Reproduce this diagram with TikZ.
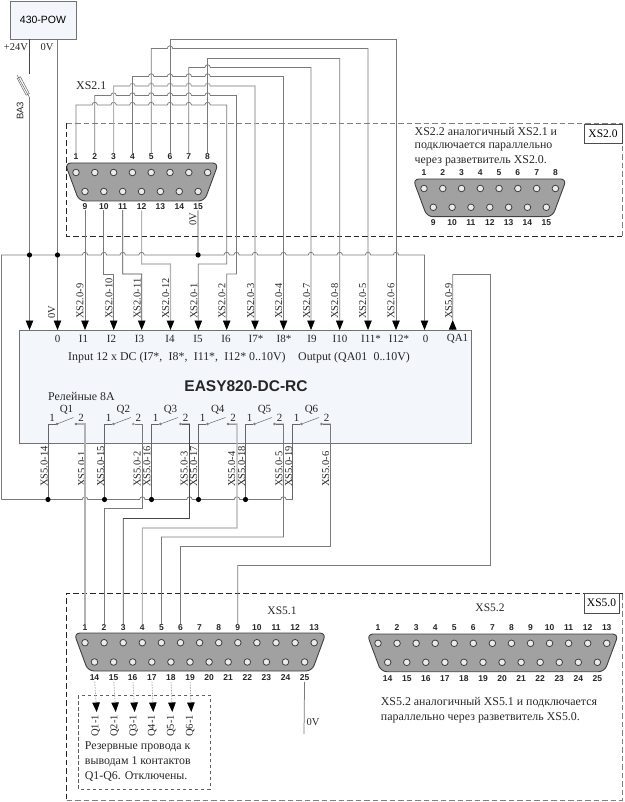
\documentclass[tikz,border=0pt]{standalone}
\usepackage{fontspec}
\setmainfont{Liberation Serif}
\setsansfont{Liberation Sans}
\usetikzlibrary{arrows.meta}
\definecolor{boxfill}{HTML}{F3F7FC}
\def\hr{2.7}
\newcommand{\hops}[2]{\foreach \hx in {#2} { -- (\hx-\hr,#1) arc[start angle=180,end angle=360,radius=\hr] }}
\newcommand{\pinrow}[7]{%
  \foreach \n in {#2,...,#3} {
    \pgfmathsetmacro{\px}{#4+(\n-#2)*#5}
    \node[pin] (#1\n p) at (\px,#6) {};
    \node[pinnum] (#1\n) at (\px,#7) {\n};
  }}
\newcommand{\shell}[4]{\draw[shell] (#1-1,#3) -- (#2+1,#3) -- (#2-13,#4) -- (#1+13,#4) -- cycle;}
\newcommand{\relay}[3]{%
  \node[contact] (#1a) at (#2+9,424) {};
  \node[contact] (#1b) at (#3-9,424) {};
  \draw[thinwire] (#1a) -- (#3-11.5,417.5);
  \draw[thinwire] (#1b) -- (#3,424);
  \node[term] (#1t) at ({(#2+#3)/2},410) {#1};
  \node[term] (#1l) at (#2+4,418) {1};
  \node[term] (#1r) at (#3-4,418) {2};
}
\begin{document}
\begin{tikzpicture}[
    x=1pt,y=-1pt,
    txt/.style={inner sep=0pt,text=black!85,font=\fontsize{10.5}{12}\selectfont},
    term/.style={inner sep=0pt,text=black!85,font=\fontsize{11}{12}\selectfont},
    txtl/.style={inner sep=0pt,anchor=west,text=black!85,font=\fontsize{11.9}{13}\selectfont},
    wirelabel/.style={txt,rotate=90,anchor=west},
    pinnum/.style={inner sep=0.6pt,text=black!85,font=\sffamily\bfseries\fontsize{8.5}{9}\selectfont},
    pin/.style={circle,draw=black!75,fill=white!92!black,line width=0.8pt,inner sep=0pt,minimum size=6.6pt},
    shell/.style={draw=black!75,fill=black!37,line width=0.9pt,rounded corners=6pt},
    wire/.style={draw=black!52,line width=0.75pt},
    lightwire/.style={draw=black!30,line width=1.1pt},
    darkwire/.style={draw=black!72,line width=0.75pt},
    thinwire/.style={draw=black!60,line width=0.5pt},
    tip/.style={-{Triangle[length=9.5pt,width=7.5pt,color=black]}},
    dot/.style={circle,fill=black,inner sep=0pt,minimum size=5.2pt},
    contact/.style={circle,draw=black!60,fill=white,line width=0.4pt,inner sep=0pt,minimum size=2pt},
    lightdash/.style={draw=black!50,line width=0.7pt,dash pattern=on 5.5pt off 3pt},
    darkdash/.style={draw=black!85,line width=0.7pt,dash pattern=on 5.5pt off 3pt},
    sparedash/.style={draw=black!62,line width=0.7pt,dash pattern=on 3.5pt off 2.5pt},
    plainbox/.style={draw=black!55,fill=boxfill,line width=0.7pt}
  ]
  \useasboundingbox (0,0) rectangle (624,802);

  % power supply
  \node[plainbox,minimum width=66pt,minimum height=38pt,inner sep=0pt,font=\sffamily\fontsize{10.5}{12}\selectfont] (pow) at (43,20) {430-POW};
  \node[txt] (lab24) at (16,47) {+24V};
  \node[txt] (lab0v) at (47,47) {0V};
  \node[rotate=90,inner sep=0pt,font=\sffamily\fontsize{9.5}{11}\selectfont,text=black!85] (ba3) at (20,111) {BA3};
  \node[draw=black!60,fill=white,line width=0.5pt,rotate=-62,minimum width=19pt,minimum height=3.6pt,inner sep=0pt] (fuse) at (23.3,86) {};
  \coordinate (fusea) at (17,75);
  \coordinate (fuseb) at (29.5,97.5);
  \coordinate (fusec) at (29.5,74);
  \draw[thinwire] (fusea) -- (fuseb);

  % device
  \node[plainbox,minimum width=452pt,minimum height=113pt,inner sep=0pt] (easy) at (245.5,386.5) {};
  \foreach \lbl/\x [count=\k] in {0/57.5,I1/83.5,I2/111.5,I3/139.5,I4/170,I5/198,I6/226,I7*/256,I8*/284,I9/312,I10/340,I11*/371,I12*/399,0/425.5,QA1/457.5}
    \node[term] (term\k) at (\x,338.5) {\lbl};
  \node[txtl] (inpa) at (68,358) {Input 12 x DC (I7*,\; I8*,\; I11*,\; I12* 0..10V)};
  \node[txtl] (inpb) at (298,358) {Output (QA01\; 0..10V)};
  \node[inner sep=0pt,text=black!85,font=\sffamily\bfseries\fontsize{15.5}{17}\selectfont] (name) at (246,386) {EASY820-DC-RC};
  \node[txtl] (rel) at (48,396) {Релейные 8А};
  \foreach \nm/\x in {k24/29.5,k0/57.5,kA/85,kB/113.7,kC/141.7,kD/170.5,kE/198.3,kF/226.7,kG/255,kH/283.5,kI/311,kJ/339.7,kK/368,kL/396,kM/424.5}
    \coordinate (\nm) at (\x,330);

  % connector XS2.1
  \node[txtl] (xs21) at (76,86) {XS2.1};
  \shell{66}{217.5}{163}{201}
  \pinrow{a}{1}{8}{76}{18.8}{172.5}{157}
  \pinrow{a}{9}{15}{85}{18.85}{191.5}{206.5}
  \node[wirelabel] (lab15) at (193,226) {0V};

  % connector XS2.2
  \node[txtl] (xs22a) at (414.5,132) {XS2.2 аналогичный XS2.1 и};
  \node[txtl] (xs22b) at (414.5,147) {подключается параллельно};
  \node[txtl] (xs22c) at (414.5,161) {через разветвитель XS2.0.};
  \shell{414}{565.5}{179}{216.7}
  \pinrow{b}{1}{8}{424}{18.77}{188.5}{173}
  \pinrow{b}{9}{15}{433.3}{18.83}{207.3}{222.7}

  % splitter frame XS2.0
  \draw[lightdash] (66.5,123.5) -- (622,123.5) -- (622,236);
  \draw[darkdash] (66.5,123.5) -- (66.5,236) -- (622,236);
  \node[draw=black!70,fill=white,inner sep=0pt,minimum width=38pt,minimum height=19.5pt,font=\fontsize{11.5}{12}\selectfont] (xs20) at (603,133.5) {XS2.0};

  % wires to the inputs
  \draw[darkwire] (pow.south-|k24) -- (fusec);
  \draw[wire,tip] (fuseb) -- (k24);
  \draw[wire,tip] (pow.south-|k0) -- (k0);
  \draw[wire,tip] (a9) -- (kA);
  \draw[wire,tip] (a10) -- (103.85,274) -- (113.7,274) -- (kB);
  \draw[darkwire,tip] (a11) -- (122.7,274) -- (141.7,274) -- (kC);
  \draw[lightwire,tip] (a12) -- (141.55,264) -- (170.5,264) -- (kD);
  \draw[darkwire] (a15) -- (198.1,255);
  \draw[wire,tip] (a1) -- (76,105) \hops{105}{94.8,113.6,132.4,151.2,170,188.8,207.6} -- (226.7,105) -- (226.7,264) -- (198.3,264) -- (kE);
  \draw[wire,tip] (a2) -- (94.8,95.5) \hops{95.5}{113.6,132.4,151.2,170,188.8,207.6} -- (236.5,95.5) -- (236.5,274) -- (226.7,274) -- (kF);
  \draw[lightwire,tip] (a3) -- (113.6,86) \hops{86}{132.4,151.2,170,188.8,207.6} -- (255,86) -- (kG);
  \draw[wire,tip] (a4) -- (132.4,76.5) \hops{76.5}{151.2,170,188.8,207.6} -- (283.5,76.5) -- (kH);
  \draw[wire,tip] (a7) -- (188.8,67.5) \hops{67.5}{207.6} -- (311,67.5) -- (kI);
  \draw[wire,tip] (a8) -- (207.6,58.5) -- (339.7,58.5) -- (kJ);
  \draw[wire,tip] (a5) -- (151.2,48.5) \hops{48.5}{170} -- (368,48.5) -- (kK);
  \draw[wire,tip] (a6) -- (170,39.5) -- (396,39.5) -- (kL);
  \draw[wire,tip] (1.5,499.5) -- (1.5,255) \hops{255}{85,103.85,122.7,141.55,226.7,236.5,255,283.5,311,339.7,368,396} -- (424.5,255) -- (kM);
  \foreach \nm/\x in {d1/29.5,d2/57.5,d3/198.1}
    \node[dot] (\nm) at (\x,255) {};

  % labels at the inputs
  \foreach \lbl/\x [count=\k] in {XS2.0-9/80,XS2.0-10/109,XS2.0-11/137.3,XS2.0-12/165.7,XS2.0-1/194,XS2.0-2/222,XS2.0-3/250.7,XS2.0-4/278.7,XS2.0-7/306.7,XS2.0-8/334.7,XS2.0-5/362.7,XS2.0-6/391,XS5.0-9/448.7,0V/51.7}
    \node[wirelabel] (upper\k) at (\x,319) {\lbl};

  % relay outputs
  \relay{Q1}{48}{85}
  \relay{Q2}{104.5}{142.3}
  \relay{Q3}{151.5}{189.5}
  \relay{Q4}{198.5}{237}
  \relay{Q5}{245.5}{283.5}
  \relay{Q6}{292.5}{330.5}
  \foreach \nm/\x in {Q1/48,Q2/104.5,Q3/151.5,Q4/198.5,Q5/245.5,Q6/292.5}
    \draw[thinwire] (\nm a) -- (\x,424) -- (\x,499.5);
  \draw[wire] (1.5,499.5) \hops{499.5}{85,142.3,189.5,237,283.5} -- (292.5,499.5);
  \foreach \nm/\x in {e1/48,e2/104.5,e3/151.5,e4/198.5,e5/245.5}
    \node[dot] (\nm) at (\x,499.5) {};
  \foreach \lbl/\x [count=\k] in {XS5.0-14/44.3,XS5.0-1/81.7,XS5.0-15/100.7,XS5.0-2/137.3,XS5.0-16/147,XS5.0-3/184.3,XS5.0-17/193.7,XS5.0-4/231.7,XS5.0-18/241.7,XS5.0-5/279,XS5.0-19/288.7,XS5.0-6/325.7}
    \node[wirelabel] (lower\k) at (\x,487) {\lbl};

  % connector XS5.1
  \node[txt,font=\fontsize{11.5}{12}\selectfont] (xs51) at (282,610.5) {XS5.1};
  \shell{75}{325}{633}{671}
  \pinrow{c}{1}{13}{85}{19.1}{642.7}{627.7}
  \pinrow{c}{14}{25}{94.5}{19.1}{662}{678}

  % connector XS5.2
  \node[txt,font=\fontsize{11.5}{12}\selectfont] (xs52) at (490,608) {XS5.2};
  \shell{368}{617.5}{634}{671.7}
  \pinrow{f}{1}{13}{378}{19.06}{643.3}{628}
  \pinrow{f}{14}{25}{387.7}{19.06}{662.3}{679}
  \node[txtl] (xs52a) at (380.7,703) {XS5.2 аналогичный XS5.1 и подключается};
  \node[txtl] (xs52b) at (380.7,718) {параллельно через разветвитель XS5.0.};

  % splitter frame XS5.0
  \draw[darkdash] (622.5,593) -- (66.5,593) -- (66.5,800);
  \draw[lightdash] (66.5,800) -- (622.5,800) -- (622.5,593);
  \node[draw=black!70,fill=white,inner sep=0pt,minimum width=35pt,minimum height=19.5pt,font=\fontsize{11.5}{12}\selectfont] (xs50) at (601.5,603) {XS5.0};

  % wires to XS5.1
  \coordinate (qa) at (452.7,330);
  \coordinate (qb) at (452.7,320);
  \draw[wire,tip] (qa) -- (qb);
  \draw[lightwire] (Q1b) -- (85,424) -- (c1);
  \draw[wire] (Q2b) -- (142.3,424) -- (142.3,508.5) -- (104.1,508.5) -- (c2);
  \draw[darkwire] (Q3b) -- (189.5,424) -- (189.5,518.5) -- (123.2,518.5) -- (c3);
  \draw[lightwire] (Q4b) -- (237,424) -- (237,528) -- (142.3,528) -- (c4);
  \draw[wire] (Q5b) -- (283.5,424) -- (283.5,537) -- (161.4,537) -- (c5);
  \draw[wire] (Q6b) -- (330.5,424) -- (330.5,546.5) -- (180.5,546.5) -- (c6);
  \draw[wire] (qb) -- (452.7,274.5) -- (490.5,274.5) -- (490.5,565.5) -- (237.8,565.5) -- (c9);

  % spare wires
  \draw[sparedash] (78.3,695.3) rectangle (210,789);
  \foreach \q/\p/\x [count=\k] in {1/14/96.7,2/15/115.7,3/16/134.7,4/17/153.3,5/18/172.3,6/19/191.3} {
    \coordinate (sp\k) at (\x,712);
    \draw[wire,draw=black!35,dash pattern=on 1.5pt off 1.2pt,tip] (c\p) -- (sp\k);
    \node[wirelabel] (spl\k) at (\x-1,737) {Q\q-1};
  }
  \node[txtl] (sa) at (84.7,746.7) {Резервные провода к};
  \node[txtl] (sb) at (84.7,761.7) {выводам 1 контактов};
  \node[txtl] (sc) at (84.7,776.7) {Q1-Q6. Отключены.};

  % zero volts at pin 25
  \coordinate (zero) at (304,734);
  \draw[wire] (c25) -- (zero);
  \node[txt] (lab25) at (313,722) {0V};
\end{tikzpicture}
\end{document}
